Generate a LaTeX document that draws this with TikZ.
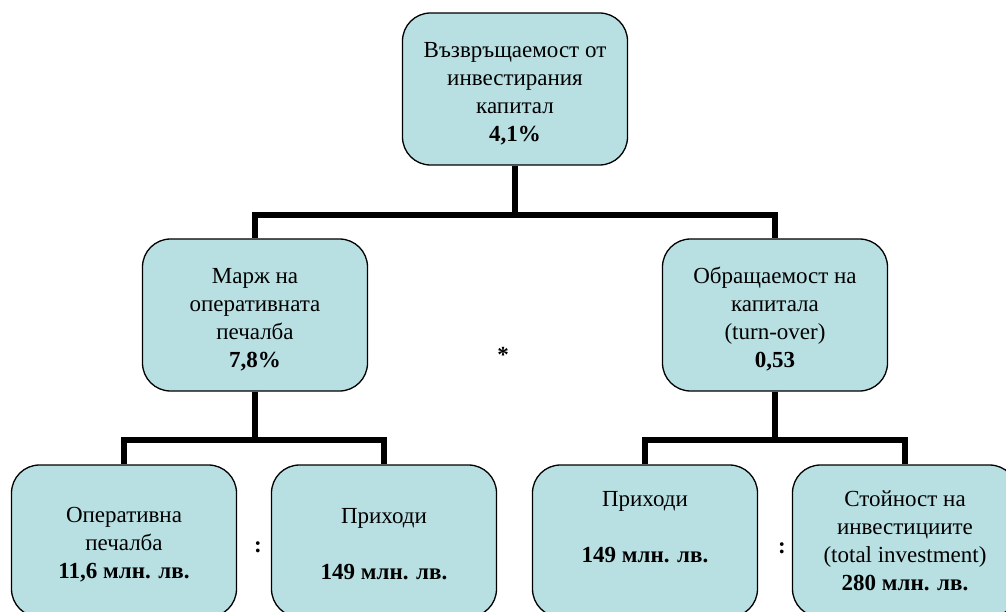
\documentclass[tikz,border=0pt]{standalone}
\usepackage{fontspec}
\setmainfont{Liberation Serif}
\definecolor{boxfill}{RGB}{184,223,226}
\newcommand\padtop[1]{\rule{0pt}{#1}}
\tikzset{
  card/.style={draw=black, line width=1.3pt, fill=boxfill, rounded corners=28pt,
    minimum width=225pt, minimum height=152pt, align=center, inner sep=0pt,
    font=\fontsize{23}{28}\selectfont},
  conn/.style={draw=black, line width=6pt},
  sym/.style={font=\fontsize{23}{28}\selectfont\bfseries, inner sep=0pt}
}
\begin{document}
\begin{tikzpicture}[x=1pt,y=-1pt]
\useasboundingbox (0,0) rectangle (1006,612);
\clip (0,0) rectangle (1006,612);
% nodes
\node[card] (top) at (515,89) {\padtop{25pt}Възвръщаемост от\\инвестирания\\капитал\\\textbf{4,1\%}};
\node[card] (mL) at (255,315) {\padtop{25pt}Марж на\\оперативната\\печалба\\\textbf{7,8\%}};
\node[card] (mR) at (775,315) {\padtop{25pt}Обращаемост на\\капитала\\(turn-over)\\\textbf{0,53}};
\node[card] (b1) at (124,541) {\padtop{22pt}Оперативна\\печалба\\\textbf{11,6 млн. лв.}};
\node[card] (b2) at (384,541) {\padtop{22pt}Приходи\\\mbox{}\\\textbf{149 млн. лв.}};
\node[card] (b3) at (645,541) {Приходи\\\mbox{}\\\textbf{149 млн. лв.}\\\mbox{}};
\node[card] (b4) at (905,541) {Стойност на\\инвестициите\\(total investment)\\\textbf{280 млн. лв.}};
\node[sym] (star) at (503,355) {*};
\node[sym] (c1) at (258,547) {:};
\node[sym] (c2) at (782,548) {:};
% junctions
\coordinate (j1) at (top.south |- 0,215);
\coordinate (j2) at (mL.south |- 0,440);
\coordinate (j3) at (mR.south |- 0,440);
% connectors
\draw[conn] (top.south) -- (j1);
\draw[conn] (mL.north) |- (j1) -| (mR.north);
\draw[conn] (mL.south) -- (j2);
\draw[conn] (b1.north) |- (j2) -| (b2.north);
\draw[conn] (mR.south) -- (j3);
\draw[conn] (b3.north) |- (j3) -| (b4.north);
\end{tikzpicture}
\end{document}
